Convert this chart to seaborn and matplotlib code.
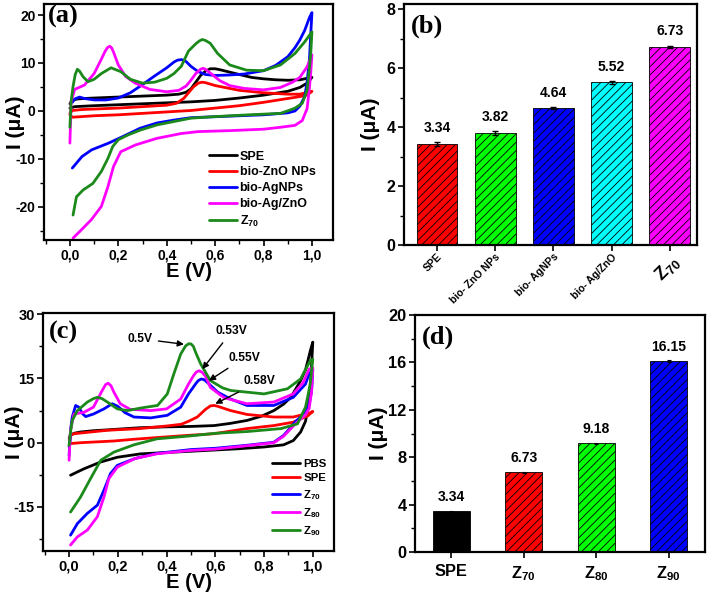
import matplotlib
matplotlib.use("Agg")
import matplotlib.pyplot as plt
import seaborn as sns
import pandas as pd
from matplotlib.ticker import MultipleLocator, FixedLocator

# ---------------- Panel (a) CV curves (forward scan then reverse scan) -------------
A_SPE_E = [0.0, 0.01, 0.03, 0.06, 0.1, 0.2, 0.3, 0.4, 0.45, 0.48, 0.5, 0.52, 0.54, 0.56, 0.58, 0.6, 0.62, 0.66,
           0.7, 0.75, 0.8, 0.85, 0.9, 0.95, 1.0,
           0.98, 0.95, 0.9, 0.8, 0.7, 0.6, 0.5, 0.4, 0.3, 0.2, 0.1, 0.02, 0.0]
A_SPE_I = [1.5, 2.2, 2.5, 2.6, 2.7, 2.9, 3.1, 3.3, 3.5, 3.9, 4.6, 6.0, 7.4, 8.3, 8.8, 8.8, 8.6, 8.1,
           7.6, 7.0, 6.7, 6.5, 6.4, 6.5, 7.0,
           5.8, 4.9, 4.1, 3.3, 2.7, 2.2, 1.9, 1.7, 1.5, 1.3, 1.1, 0.9, 0.6]

A_ZNO_E = [0.0, 0.01, 0.05, 0.1, 0.2, 0.3, 0.4, 0.44, 0.47, 0.49, 0.51, 0.53, 0.545, 0.56, 0.58, 0.6, 0.65, 0.7,
           0.8, 0.9, 0.95, 1.0,
           0.98, 0.95, 0.9, 0.8, 0.7, 0.6, 0.5, 0.4, 0.3, 0.2, 0.1, 0.01, 0.0]
A_ZNO_I = [-0.5, 0.1, 0.3, 0.4, 0.6, 0.9, 1.2, 1.6, 2.6, 3.8, 5.0, 5.8, 6.0, 5.9, 5.6, 5.3, 4.8, 4.3,
           3.8, 3.5, 3.5, 4.1,
           3.3, 3.0, 2.6, 1.8, 1.1, 0.6, 0.1, -0.2, -0.5, -0.8, -1.0, -1.3, -0.8]

A_AG_E = [0.01, 0.02, 0.04, 0.06, 0.1, 0.15, 0.2, 0.25, 0.3, 0.35, 0.4, 0.43, 0.445, 0.46, 0.47, 0.48, 0.5,
          0.53, 0.56, 0.6, 0.66, 0.72, 0.8, 0.85, 0.9, 0.93, 0.95, 0.97, 0.99, 1.0,
          0.995, 0.99, 0.98, 0.97, 0.95, 0.93, 0.9, 0.8, 0.7, 0.6, 0.5, 0.43, 0.36, 0.29, 0.22, 0.16, 0.09, 0.05, 0.01]
A_AG_I = [1.8, 2.5, 2.9, 2.6, 2.3, 2.3, 2.7, 3.8, 5.5, 7.3, 9.0, 10.2, 10.6, 10.7, 10.6, 10.3, 9.3,
          8.2, 7.6, 7.4, 7.5, 7.7, 8.4, 9.5, 11.3, 13.2, 14.8, 16.8, 19.5, 20.5,
          16.0, 11.0, 6.0, 3.0, 1.0, 0.0, -0.4, -0.8, -1.0, -1.2, -1.4, -1.9, -2.5, -3.6, -5.3, -6.7, -8.1, -9.5, -11.9]

A_AGZNO_E = [0.0, 0.005, 0.02, 0.06, 0.1, 0.13, 0.145, 0.155, 0.165, 0.173, 0.18, 0.2, 0.23, 0.27, 0.33, 0.4,
             0.45, 0.48, 0.5, 0.52, 0.54, 0.55, 0.56, 0.59, 0.62, 0.66, 0.72, 0.8, 0.87, 0.92, 0.95, 0.98, 1.0,
             0.995, 0.99, 0.98, 0.96, 0.93, 0.87, 0.8, 0.66, 0.53, 0.46, 0.36, 0.27, 0.21, 0.18, 0.157, 0.13,
             0.088, 0.047, 0.013]
A_AGZNO_I = [-6.7, 2.0, 4.5, 5.4, 7.8, 10.8, 12.4, 13.2, 13.5, 13.1, 12.3, 9.6, 7.2, 5.8, 4.5, 4.0,
             4.3, 5.2, 6.4, 7.8, 8.7, 8.9, 8.7, 7.5, 6.3, 5.3, 4.7, 4.4, 4.9, 6.0, 7.0, 9.2, 11.7,
             8.0, 5.0, 0.5, -2.0, -3.0, -3.4, -3.8, -4.1, -4.3, -4.7, -5.7, -7.1, -8.5, -11.6, -15.8, -19.9,
             -22.7, -24.8, -26.5]

A_Z70_E = [0.0, 0.005, 0.013, 0.022, 0.031, 0.04, 0.055, 0.075, 0.1, 0.13, 0.17, 0.21, 0.25, 0.3, 0.35, 0.4,
           0.43, 0.46, 0.49, 0.52, 0.535, 0.547, 0.56, 0.58, 0.61, 0.66, 0.73, 0.8, 0.87, 0.93, 0.97, 1.0,
           0.995, 0.99, 0.98, 0.96, 0.93, 0.91, 0.87, 0.74, 0.59, 0.5, 0.43, 0.36, 0.29, 0.24, 0.2, 0.177,
           0.157, 0.13, 0.095, 0.054, 0.027, 0.013]
A_Z70_I = [-3.4, 2.0, 5.1, 7.6, 8.7, 8.3, 7.1, 6.1, 6.6, 7.8, 9.0, 8.2, 6.6, 5.8, 6.0, 6.8,
           7.8, 9.3, 12.5, 14.0, 14.6, 14.9, 14.7, 14.1, 12.0, 9.6, 8.5, 8.4, 9.6, 12.0, 14.4, 16.5,
           12.0, 9.2, 4.4, 1.6, 0.6, 0.2, -0.5, -0.8, -1.2, -1.5, -2.2, -2.9, -4.0, -5.0, -6.0, -7.4,
           -9.9, -12.6, -15.1, -16.5, -17.9, -21.7]

A_LABELS = ["SPE", "bio-ZnO NPs", "bio-AgNPs", "bio-Ag/ZnO", "Z$_{70}$"]

# ---------------- Panel (b) bars ----------------
B_CATS = ["SPE", "bio- ZnO NPs", "bio- AgNPs", "bio- Ag/ZnO", "Z$_{70}$"]
B_HEIGHTS = [3.42, 3.81, 4.64, 5.52, 6.72]
B_ERRORS = [0.07, 0.06, 0.03, 0.04, 0.04]
B_TEXT = ["3.34", "3.82", "4.64", "5.52", "6.73"]

# ---------------- Panel (c) CV curves ----------------
C_PBS_E = [0.0, 0.006, 0.02, 0.047, 0.1, 0.157, 0.29, 0.4, 0.5, 0.595, 0.66, 0.73, 0.79, 0.84, 0.88, 0.91,
           0.95, 0.97, 0.98, 0.99, 1.0,
           0.995, 0.99, 0.98, 0.97, 0.95, 0.92, 0.88, 0.8, 0.7, 0.6, 0.5, 0.43, 0.294, 0.198, 0.13, 0.061, 0.006]
C_PBS_I = [-1.0, 1.7, 2.2, 2.5, 2.8, 3.0, 3.5, 3.7, 3.8, 4.0, 4.5, 5.2, 6.2, 7.5, 9.0, 10.6,
           14.5, 17.0, 19.2, 21.5, 23.5,
           18.0, 13.0, 8.0, 5.0, 2.5, 0.5, -0.5, -1.0, -1.4, -1.7, -2.0, -2.2, -2.6, -3.4, -4.5, -6.1, -7.6]

C_SPE_E = [0.0, 0.005, 0.02, 0.157, 0.29, 0.4, 0.46, 0.49, 0.526, 0.56, 0.58, 0.595, 0.61, 0.663, 0.73, 0.84,
           0.92, 0.99, 1.0,
           0.98, 0.92, 0.84, 0.73, 0.595, 0.458, 0.36, 0.266, 0.184, 0.116, 0.047, 0.006]
C_SPE_I = [1.0, 1.7, 2.1, 2.9, 3.3, 3.9, 4.3, 5.0, 6.0, 7.8, 8.6, 8.7, 8.5, 7.5, 6.6, 6.0,
           6.0, 7.0, 7.3,
           6.3, 4.8, 4.0, 3.3, 2.1, 1.6, 1.2, 0.8, 0.4, 0.2, 0.0, -0.2]

C_Z70_E = [0.0, 0.006, 0.013, 0.027, 0.04, 0.055, 0.068, 0.1, 0.143, 0.177, 0.2, 0.23, 0.266, 0.335, 0.403,
           0.458, 0.49, 0.52, 0.53, 0.543, 0.555, 0.567, 0.61, 0.663, 0.73, 0.84, 0.92, 0.97, 0.985, 1.0,
           0.995, 0.985, 0.97, 0.95, 0.93, 0.91, 0.88, 0.84, 0.73, 0.6, 0.5, 0.36, 0.27, 0.198, 0.17, 0.143,
           0.116, 0.075, 0.034, 0.006]
C_Z70_I = [-3.0, 3.0, 6.0, 8.7, 8.3, 6.8, 6.1, 6.7, 7.9, 9.1, 8.5, 7.0, 6.0, 5.8, 6.4,
           8.3, 11.4, 13.8, 14.5, 14.9, 14.7, 14.1, 11.8, 10.2, 8.7, 8.7, 10.6, 13.7, 16.1, 17.0,
           12.0, 9.0, 7.0, 6.0, 5.0, 3.6, 1.7, 0.1, -0.6, -1.3, -1.6, -2.5, -3.7, -5.3, -7.2, -11.1,
           -14.6, -16.5, -18.9, -21.6]

C_Z80_E = [0.0, 0.006, 0.02, 0.061, 0.1, 0.136, 0.15, 0.16, 0.172, 0.184, 0.21, 0.25, 0.335, 0.4, 0.458, 0.49,
           0.51, 0.522, 0.533, 0.545, 0.56, 0.58, 0.636, 0.73, 0.84, 0.92, 0.96, 0.985, 1.0,
           0.995, 0.985, 0.97, 0.95, 0.93, 0.91, 0.88, 0.84, 0.73, 0.6, 0.5, 0.36, 0.27, 0.198, 0.163, 0.143,
           0.116, 0.075, 0.034, 0.006]
C_Z80_I = [-4.1, 3.0, 6.7, 7.1, 8.3, 12.2, 13.6, 13.9, 13.3, 11.8, 9.1, 7.8, 7.5, 7.9, 10.2, 13.7,
           15.6, 16.5, 16.8, 16.5, 15.5, 12.9, 10.5, 9.1, 9.5, 11.4, 14.0, 17.2, 17.5,
           12.0, 8.0, 6.5, 5.5, 4.5, 3.3, 1.5, 0.0, -0.7, -1.5, -1.8, -2.6, -3.7, -5.7, -8.4, -12.7,
           -17.3, -20.4, -22.0, -23.9]

C_Z90_E = [0.0, 0.006, 0.013, 0.034, 0.075, 0.1, 0.116, 0.135, 0.157, 0.198, 0.239, 0.294, 0.363, 0.403, 0.43,
           0.458, 0.478, 0.49, 0.5, 0.51, 0.52, 0.54, 0.58, 0.63, 0.663, 0.8, 0.896, 0.95, 0.99, 1.0,
           0.99, 0.98, 0.97, 0.937, 0.87, 0.73, 0.6, 0.5, 0.36, 0.266, 0.184, 0.13, 0.088, 0.047, 0.006]
C_Z90_I = [-0.6, 2.5, 5.2, 7.5, 9.5, 10.3, 10.6, 10.3, 9.5, 7.9, 7.5, 8.1, 8.7, 11.4, 16.1,
           20.7, 22.6, 23.1, 23.1, 22.5, 21.0, 18.4, 14.5, 12.8, 12.2, 11.4, 12.6, 14.9, 19.2, 19.5,
           14.0, 11.0, 8.3, 4.4, 3.3, 2.6, 2.2, 1.6, 0.9, -0.5, -2.2, -4.1, -8.4, -12.7, -16.2]

C_LABELS = ["PBS", "SPE", "Z$_{70}$", "Z$_{80}$", "Z$_{90}$"]
C_PEAK_TEXT = ["0.5V", "0.53V", "0.55V", "0.58V"]
C_PEAK_TIP = [(0.471, 23.0), (0.547, 17.2), (0.574, 14.5), (0.60, 9.1)]
C_TEXT_POS = [(0.29, 24.3), (0.667, 26.0), (0.72, 19.9), (0.782, 14.3)]

# ---------------- Panel (d) bars ----------------
D_CATS = ["SPE", "Z$_{70}$", "Z$_{80}$", "Z$_{90}$"]
D_HEIGHTS = [3.45, 6.73, 9.18, 16.12]
D_TEXT = ["3.34", "6.73", "9.18", "16.15"]

CV_COLORS = ["#000000", "#ff0000", "#0000ff", "#ff00ff", "#1b8a1b"]
B_COLORS = ["#ff0000", "#00ff00", "#0000ff", "#00ffff", "#ff00ff"]
D_COLORS = ["#000000", "#ff0000", "#00ff00", "#0000ff"]

sns.set_theme(style="ticks")
plt.rcParams.update({
    "font.family": ["Liberation Sans", "DejaVu Sans"],
    "font.weight": "bold",
    "axes.labelweight": "bold",
    "axes.unicode_minus": False,
    "mathtext.fontset": "custom",
    "mathtext.rm": "Liberation Sans:bold",
    "mathtext.it": "Liberation Sans:bold",
    "mathtext.bf": "Liberation Sans:bold",
    "hatch.linewidth": 0.6,
    "hatch.color": "black",
    "axes.linewidth": 1.6,
    "axes.edgecolor": "black",
    "xtick.direction": "out",
    "ytick.direction": "out",
    "xtick.major.size": 4, "ytick.major.size": 4,
    "xtick.minor.size": 3, "ytick.minor.size": 3,
    "xtick.major.width": 1.2, "ytick.major.width": 1.2,
    "xtick.minor.width": 1.0, "ytick.minor.width": 1.0,
    "xtick.color": "black", "ytick.color": "black",
    "text.color": "black", "axes.labelcolor": "black",
})

fig = plt.figure(figsize=(7.09, 5.95), dpi=100)
W, H = 709.0, 595.0
axA = fig.add_axes([44 / W, 1 - 240 / H, 289 / W, 236 / H])
axB = fig.add_axes([404 / W, 1 - 245 / H, 293 / W, 241.5 / H])
axC = fig.add_axes([43 / W, 1 - 551 / H, 291 / W, 238 / H])
axD = fig.add_axes([415 / W, 1 - 552 / H, 290 / W, 237 / H])


def cv(ax, E, I, color, label):
    df = pd.DataFrame({"E": E, "I": I})
    sns.lineplot(data=df, x="E", y="I", sort=False, estimator=None, color=color,
                 lw=2.0, ax=ax, label=label, solid_joinstyle="round", solid_capstyle="round")


def style_cv(ax, ylim, ymaj, ymin, tick_fs, label_x):
    ax.set_xlim(-0.107, 1.087)
    ax.set_ylim(*ylim)
    xt = [0.0, 0.2, 0.4, 0.6, 0.8, 1.0]
    ax.xaxis.set_major_locator(FixedLocator(xt))
    ax.set_xticklabels([f"{v:.1f}".replace(".", ",") for v in xt])
    ax.xaxis.set_minor_locator(MultipleLocator(0.1))
    ax.yaxis.set_major_locator(MultipleLocator(ymaj))
    ax.yaxis.set_minor_locator(MultipleLocator(ymin))
    ax.tick_params(labelsize=tick_fs, pad=2)
    for lab in ax.get_xticklabels() + ax.get_yticklabels():
        lab.set_fontweight("bold")
    ax.set_xlabel("E (V)", fontsize=14.5, fontweight="bold", labelpad=0)
    ax.set_ylabel("I (μA)", fontsize=15, fontweight="bold")
    ax.yaxis.set_label_coords(label_x, 0.5)


# Panel (a)
for E, I, c, lab in zip([A_SPE_E, A_ZNO_E, A_AG_E, A_AGZNO_E, A_Z70_E],
                        [A_SPE_I, A_ZNO_I, A_AG_I, A_AGZNO_I, A_Z70_I], CV_COLORS, A_LABELS):
    cv(axA, E, I, c, lab)
style_cv(axA, (-26.9, 22.3), 10, 5, 10, -0.066)
axA.legend(loc="upper left", bbox_to_anchor=(0.545, 0.41), frameon=False,
           handlelength=2.2, handletextpad=0.25, labelspacing=0.3, borderpad=0.1,
           prop={"weight": "bold", "size": 9})
axA.text(0.015, 0.995, "(a)", transform=axA.transAxes, ha="left", va="top",
         fontsize=19, fontweight="bold", family="Liberation Serif")

# Panel (c)
for E, I, c, lab in zip([C_PBS_E, C_SPE_E, C_Z70_E, C_Z80_E, C_Z90_E],
                        [C_PBS_I, C_SPE_I, C_Z70_I, C_Z80_I, C_Z90_I], CV_COLORS, C_LABELS):
    cv(axC, E, I, c, lab)
style_cv(axC, (-25.3, 30.3), 15, 7.5, 10.5, -0.065)
axC.legend(loc="lower left", bbox_to_anchor=(0.765, 0.025), frameon=False,
           handlelength=2.4, handletextpad=0.3, labelspacing=0.4, borderpad=0.1,
           prop={"weight": "bold", "size": 8.2})
axC.text(0.02, 0.965, "(c)", transform=axC.transAxes, ha="left", va="top",
         fontsize=19, fontweight="bold", family="Liberation Serif")
for txt, tip, pos in zip(C_PEAK_TEXT, C_PEAK_TIP, C_TEXT_POS):
    axC.annotate(txt, xy=tip, xytext=pos, fontsize=8.7, fontweight="bold", ha="center", va="center",
                 arrowprops=dict(arrowstyle="-|>", color="black", lw=1.0, mutation_scale=9,
                                 shrinkA=2, shrinkB=0))


def bars(ax, cats, heights, colors, width):
    df = pd.DataFrame({"cat": cats, "val": heights})
    sns.barplot(data=df, x="cat", y="val", hue="cat", palette=colors, legend=False, width=width,
                ax=ax, edgecolor="black", linewidth=0.6, saturation=1)
    for p in ax.patches:
        p.set_hatch("////")


# Panel (b)
bars(axB, B_CATS, B_HEIGHTS, B_COLORS, 0.70)
axB.errorbar(range(len(B_CATS)), B_HEIGHTS, yerr=B_ERRORS, fmt="none", ecolor="black",
             elinewidth=1.0, capsize=2, capthick=1.0)
for i, (h, t) in enumerate(zip(B_HEIGHTS, B_TEXT)):
    axB.text(i, h + 0.3, t, ha="center", va="bottom", fontsize=10, fontweight="bold")
axB.set_xlim(-0.57, 4.47)
axB.set_ylim(0, 8.2)
axB.yaxis.set_major_locator(FixedLocator([0, 2, 4, 6, 8]))
axB.yaxis.set_minor_locator(FixedLocator([1, 3, 5, 7]))
axB.set_xticks(range(len(B_CATS)))
axB.set_xticklabels(B_CATS, rotation=45, ha="right", rotation_mode="anchor")
for i, lab in enumerate(axB.get_xticklabels()):
    lab.set_fontweight("bold")
    lab.set_fontsize(13 if i == len(B_CATS) - 1 else 7.5)
axB.tick_params(axis="y", labelsize=11.5, pad=2)
axB.tick_params(axis="x", pad=1)
for lab in axB.get_yticklabels():
    lab.set_fontweight("bold")
axB.set_xlabel("")
axB.set_ylabel("I (μA)", fontsize=15, fontweight="bold")
axB.yaxis.set_label_coords(-0.082, 0.5)
axB.text(0.025, 0.955, "(b)", transform=axB.transAxes, ha="left", va="top",
         fontsize=19, fontweight="bold", family="Liberation Serif")

# Panel (d)
bars(axD, D_CATS, D_HEIGHTS, D_COLORS, 0.506)
axD.errorbar(range(len(D_CATS)), D_HEIGHTS, yerr=[0.05] * len(D_CATS), fmt="none", ecolor="black",
             elinewidth=0.8, capsize=1.5, capthick=0.8)
for i, (h, t) in enumerate(zip(D_HEIGHTS, D_TEXT)):
    axD.text(i, h + 0.6, t, ha="center", va="bottom", fontsize=10, fontweight="bold")
axD.set_xlim(-0.5, 3.5)
axD.set_ylim(0, 20)
axD.yaxis.set_major_locator(MultipleLocator(4))
axD.yaxis.set_minor_locator(MultipleLocator(2))
axD.tick_params(labelsize=11.8, pad=2)
axD.tick_params(axis="x", pad=5)
for lab in axD.get_xticklabels() + axD.get_yticklabels():
    lab.set_fontweight("bold")
axD.set_xlabel("")
axD.set_ylabel("I (μA)", fontsize=15, fontweight="bold")
axD.yaxis.set_label_coords(-0.093, 0.5)
axD.text(0.025, 0.955, "(d)", transform=axD.transAxes, ha="left", va="top",
         fontsize=19, fontweight="bold", family="Liberation Serif")

for ax in (axA, axB, axC, axD):
    for s in ax.spines.values():
        s.set_visible(True)
        s.set_linewidth(1.6)
        s.set_color("black")

fig.savefig("out.png", dpi=100)
